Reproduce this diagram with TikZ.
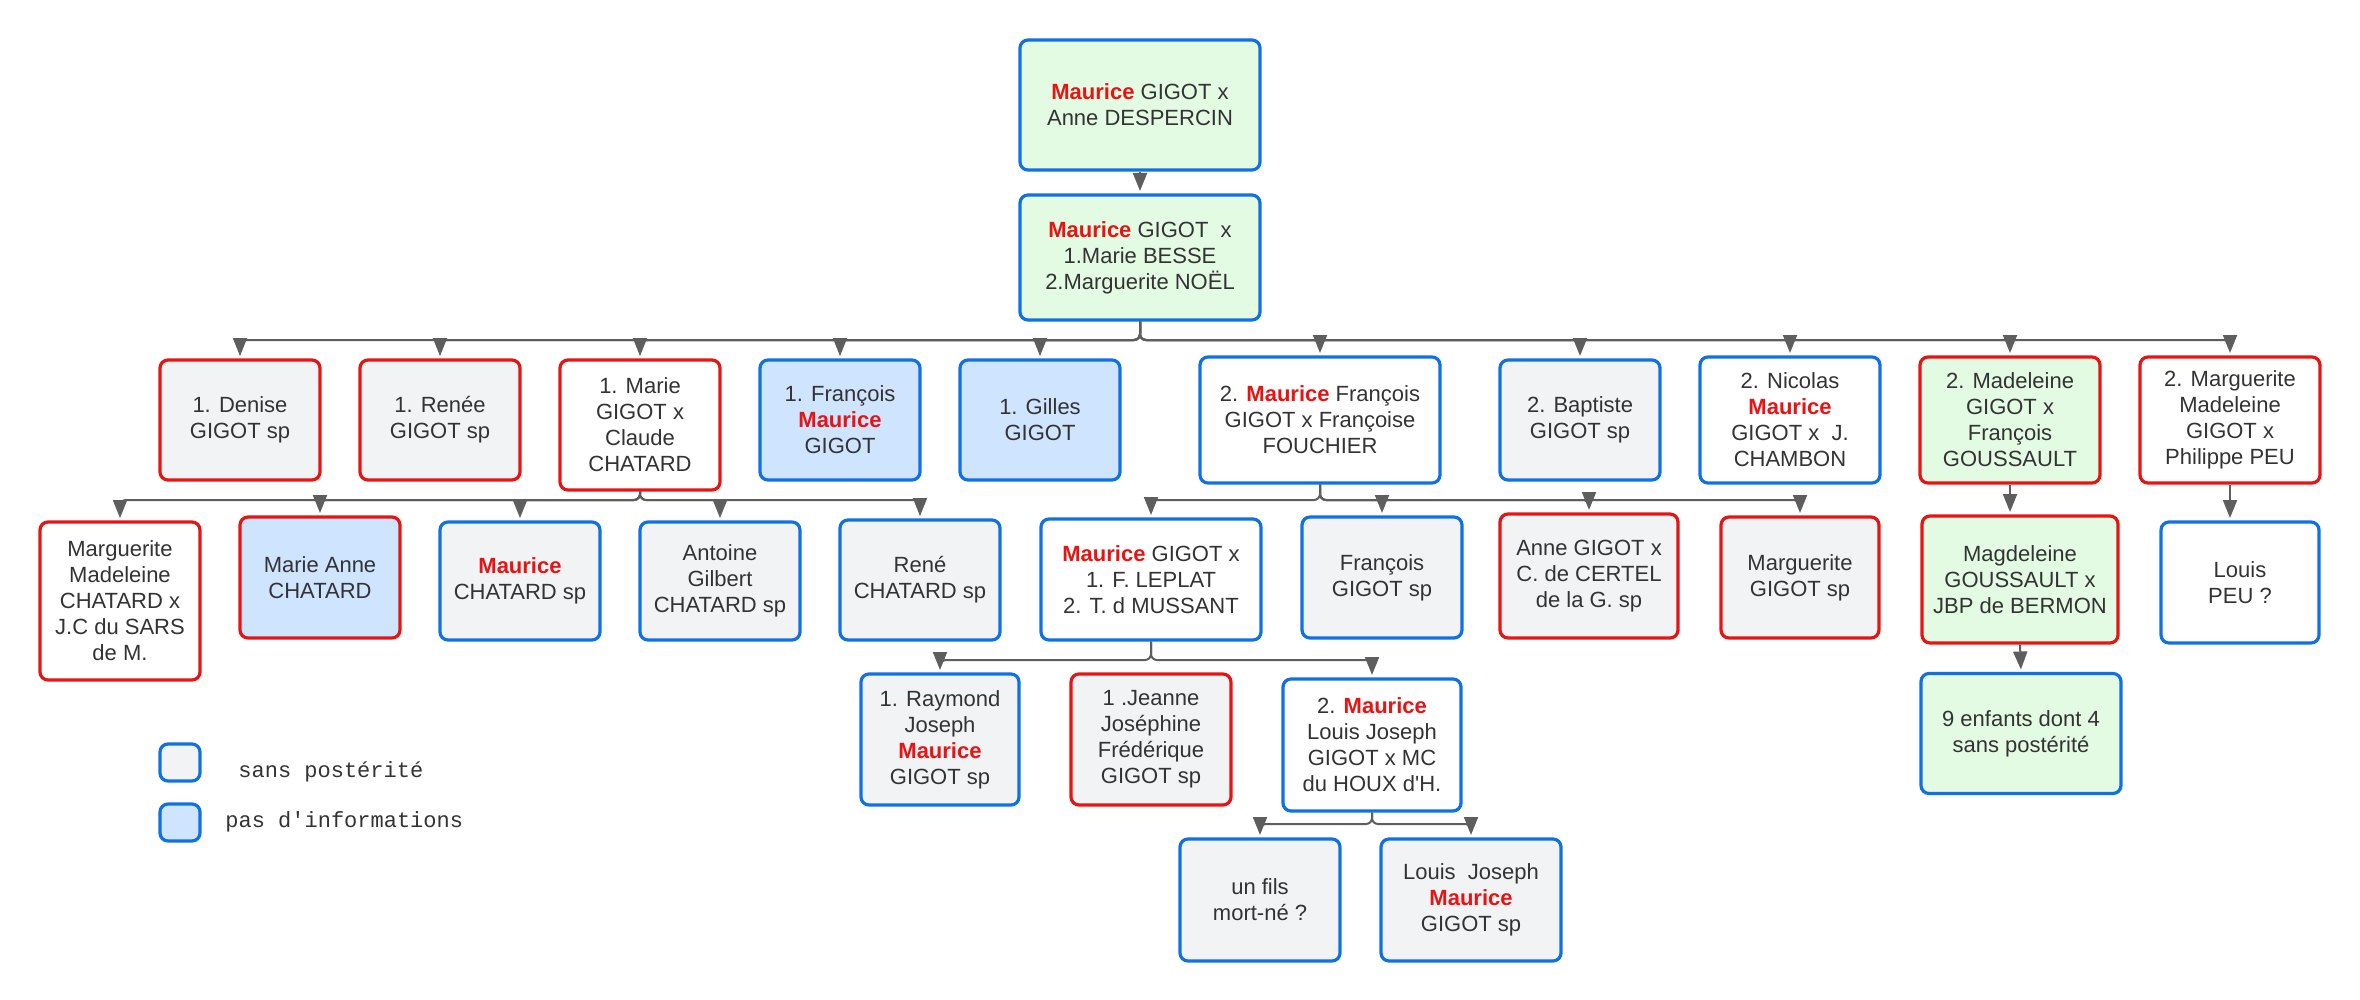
\documentclass[tikz,border=0pt]{standalone}
\usepackage{fontspec}
\setmainfont{Liberation Sans}
\newfontfamily\legendfont{Liberation Mono}
\usetikzlibrary{arrows.meta}
\definecolor{cblue}{HTML}{1071E5}
\definecolor{cred}{HTML}{E81313}
\definecolor{cgrey}{HTML}{F2F3F5}
\definecolor{cltblue}{HTML}{CFE4FF}
\definecolor{cgreen}{HTML}{E3FAE3}
\definecolor{cline}{HTML}{5E5E5E}
\definecolor{txt}{HTML}{333333}
\newcommand\boxfont{\fontsize{11}{13}\selectfont}
\newcommand\mau{\textcolor{cred}{\textbf{Maurice}}}
\tikzset{
  box/.style={rectangle, rounded corners=4pt, line width=1.6pt, align=center,
    font=\boxfont, text=txt, inner sep=2pt},
  bl/.style={draw=cblue}, rd/.style={draw=cred},
  fg/.style={fill=cgrey}, fb/.style={fill=cltblue}, fgr/.style={fill=cgreen}, fw/.style={fill=white},
  sz/.style 2 args={minimum width=#1*0.5pt, minimum height=#2*0.5pt},
  conn/.style={draw=cline, line width=1pt, rounded corners=3pt,
    -{Triangle[width=7pt,length=9pt]}, shorten >=1.2pt},
  legtext/.style={font=\legendfont\fontsize{11}{13}\selectfont, text=txt, anchor=west, inner sep=0pt}
}
\begin{document}
\begin{tikzpicture}[x=0.5pt,y=-0.5pt]
\useasboundingbox[fill=white] (0,0) rectangle (2360,1000);
% generation 0-1
\node[box,bl,fgr,sz={240}{130}] (A) at (1140,105) {\mau{} GIGOT x\\Anne DESPERCIN};
\node[box,bl,fgr,sz={240}{125}] (B) at (1140,257.5) {\mau{} GIGOT\ \ x\\1.Marie BESSE\\2.Marguerite NOËL};
% row 1
\node[box,rd,fg,sz={160}{120}] (d1) at (240,420) {1. Denise\\GIGOT sp};
\node[box,rd,fg,sz={160}{120}] (d2) at (440,420) {1. Renée\\GIGOT sp};
\node[box,rd,fw,sz={160}{130}] (d3) at (640,425) {1. Marie\\GIGOT x\\Claude\\CHATARD};
\node[box,bl,fb,sz={160}{120}] (d4) at (840,420) {1. François\\\mau\\GIGOT};
\node[box,bl,fb,sz={160}{120}] (d5) at (1040,420) {1. Gilles\\GIGOT};
\node[box,bl,fw,sz={240}{126}] (d6) at (1320,420) {2. \mau{} François\\GIGOT x Françoise\\FOUCHIER};
\node[box,bl,fg,sz={160}{120}] (d7) at (1580,420) {2. Baptiste\\GIGOT sp};
\node[box,bl,fw,sz={180}{126}] (d8) at (1790,420) {2. Nicolas\\\mau\\GIGOT x\ \ J.\\CHAMBON};
\node[box,rd,fgr,sz={180}{126}] (d9) at (2010,420) {2. Madeleine\\GIGOT x\\François\\GOUSSAULT};
\node[box,rd,fw,sz={180}{126}] (d10) at (2230,420) {2. Marguerite\\Madeleine\\GIGOT x\\Philippe PEU};
% row 2
\node[box,rd,fw,sz={160}{158}] (e1) at (120,601) {Marguerite\\Madeleine\\CHATARD x\\J.C du SARS\\de M.};
\node[box,rd,fb,sz={160}{121}] (e2) at (320,577.5) {Marie Anne\\CHATARD};
\node[box,bl,fg,sz={160}{118}] (e3) at (520,581) {\mau\\CHATARD sp};
\node[box,bl,fg,sz={160}{118}] (e4) at (720,581) {Antoine\\Gilbert\\CHATARD sp};
\node[box,bl,fg,sz={160}{120}] (e5) at (920,580) {René\\CHATARD sp};
\node[box,bl,fw,sz={220}{121}] (f1) at (1151,579.5) {\mau{} GIGOT x\\1. F. LEPLAT\\2. T. d MUSSANT};
\node[box,bl,fg,sz={160}{121}] (f2) at (1382,577.5) {François\\GIGOT sp};
\node[box,rd,fg,sz={178}{124}] (f3) at (1589,576) {Anne GIGOT x\\C. de CERTEL\\de la G. sp};
\node[box,rd,fg,sz={158}{121}] (f4) at (1800,577.5) {Marguerite\\GIGOT sp};
\node[box,rd,fgr,sz={196}{127}] (g1) at (2020,579.5) {Magdeleine\\GOUSSAULT x\\JBP de BERMON};
\node[box,bl,fw,sz={158}{121}] (g2) at (2240,582.5) {Louis\\PEU ?};
% row 3
\node[box,bl,fg,sz={158}{131}] (h1) at (940,739.5) {1. Raymond\\Joseph\\\mau\\GIGOT sp};
\node[box,rd,fg,sz={160}{131}] (h2) at (1151,739.5) {1 .Jeanne\\Joséphine\\Frédérique\\GIGOT sp};
\node[box,bl,fw,sz={178}{132}] (h3) at (1372,745) {2. \mau\\Louis Joseph\\GIGOT x MC\\du HOUX d\textquotesingle H.};
\node[box,bl,fgr,sz={200}{120}] (g3) at (2021,733.5) {9 enfants dont 4\\sans postérité};
% row 4
\node[box,bl,fg,sz={160}{122}] (i1) at (1260,900) {un fils\\mort-né ?};
\node[box,bl,fg,sz={180}{122}] (i2) at (1471,900) {Louis\ \ Joseph\\\mau\\GIGOT sp};
% legend
\node[box,bl,fg,sz={40}{37},inner sep=0pt] (L1) at (180,762.5) {};
\node[box,bl,fb,sz={40}{37},inner sep=0pt] (L2) at (180,822.5) {};
\node[legtext] (L1t) at (238,772) {sans postérité};
\node[legtext] (L2t) at (225,822) {pas d\textquotesingle informations};
% bus coordinates
\coordinate (bB) at (1140,340);
\coordinate (b3) at (640,500);
\coordinate (b6) at (1320,500);
\coordinate (bf) at (1151,660);
\coordinate (bh) at (1372,824);
% connectors
\draw[conn] (A.south) -- (B.north);
\foreach \c in {d1,d2,d3,d4,d5,d6,d7,d8,d9,d10}{
  \draw[conn] (B.south) -- (bB) -| (\c.north);
}
\foreach \c in {e1,e2,e3,e4,e5}{
  \draw[conn] (d3.south) -- (b3) -| (\c.north);
}
\foreach \c in {f1,f2,f3,f4}{
  \draw[conn] (d6.south) -- (b6) -| (\c.north);
}
\foreach \c in {h1,h3}{
  \draw[conn] (f1.south) -- (bf) -| (\c.north);
}
\foreach \c in {i1,i2}{
  \draw[conn] (h3.south) -- (bh) -| (\c.north);
}
\draw[conn] (d9.south) -- (d9.south |- g1.north);
\draw[conn] (d10.south) -- (d10.south |- g2.north);
\draw[conn] (g1.south) -- (g3.north);
\end{tikzpicture}
\end{document}
